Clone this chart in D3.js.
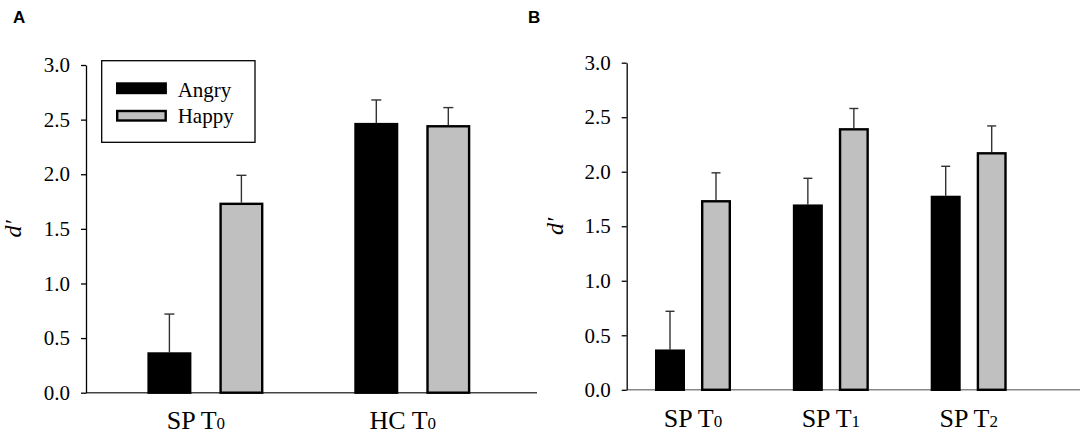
<!DOCTYPE html>
<html><head><meta charset="utf-8">
<script src="https://cdn.jsdelivr.net/npm/d3@7"></script>
<style>body{margin:0;background:#fff} svg{display:block}</style>
</head><body>
<svg id="chart" width="1084" height="435"></svg>
<script>
// ---- data ----
const seriesNames = ["Angry", "Happy"];
const categoriesA = ["SP T0", "HC T0"];
const angryMeanA = [0.37, 2.47];
const angrySEA = [0.35, 0.21];
const happyMeanA = [1.74, 2.45];
const happySEA = [0.25, 0.16];

const categoriesB = ["SP T0", "SP T1", "SP T2"];
const angryMeanB = [0.37, 1.70, 1.78];
const angrySEB = [0.35, 0.24, 0.27];
const happyMeanB = [1.74, 2.40, 2.18];
const happySEB = [0.25, 0.18, 0.24];

const yTicks = [0, 0.5, 1.0, 1.5, 2.0, 2.5, 3.0];
const yDomain = [0, 3];
const yTitle = "d\u2032";

// ---- styles ----
const colors = { Angry: "#000000", Happy: "#c0c0c0" };
const serif = "'Liberation Serif','Times New Roman',serif";
const svg = d3.select("#chart");

function panel(cfg) {
  const g = svg.append("g");
  const y = d3.scaleLinear().domain(yDomain).range([cfg.yBottom, cfg.yTop]);
  const x = d3.scalePoint().domain(cfg.categories).range([cfg.firstCenter, cfg.lastCenter]);

  // x-axis line
  g.append("line")
    .attr("x1", cfg.axisX).attr("x2", cfg.xEnd)
    .attr("y1", y(0)).attr("y2", y(0))
    .attr("stroke", cfg.xAxisColor).attr("stroke-width", 1.6);

  // y-axis
  const yAxis = d3.axisLeft(y).tickValues(yTicks).tickFormat(d3.format(".1f"))
    .tickSize(5).tickSizeOuter(0).tickPadding(11);
  const ya = g.append("g").attr("transform", `translate(${cfg.axisX},0)`).call(yAxis);
  ya.attr("font-family", serif).attr("font-size", 21);
  ya.select(".domain").attr("stroke", "#000").attr("stroke-width", 1.3);
  ya.selectAll(".tick line").attr("stroke", "#000").attr("stroke-width", 1.3);
  ya.selectAll(".tick text")
    .style("font-family", serif).style("font-size", "21px").attr("fill", "#000");

  // y title
  g.append("text")
    .attr("transform", `translate(${cfg.axisX - cfg.titleOffset},${(cfg.yTop + cfg.yBottom) / 2}) rotate(-90)`)
    .attr("text-anchor", "middle").attr("dy", "0.35em")
    .style("font-family", serif).style("font-style", "italic").style("font-size", "24px")
    .text(yTitle);

  const series = [
    { name: "Angry", mean: cfg.angryMean, se: cfg.angrySE, dir: -1 },
    { name: "Happy", mean: cfg.happyMean, se: cfg.happySE, dir: 1 }
  ];
  const recs = [];
  series.forEach(s => cfg.categories.forEach((c, i) => {
    recs.push({ name: s.name, cat: c, mean: s.mean[i], se: s.se[i], cx: x(c) + s.dir * cfg.offset });
  }));

  // error bars
  const eb = g.selectAll(".eb").data(recs).enter().append("g");
  eb.append("line").attr("x1", d => d.cx).attr("x2", d => d.cx)
    .attr("y1", d => y(d.mean)).attr("y2", d => y(d.mean + d.se))
    .attr("stroke", "#333").attr("stroke-width", 1.4);
  eb.append("line").attr("x1", d => d.cx - cfg.capW / 2).attr("x2", d => d.cx + cfg.capW / 2)
    .attr("y1", d => y(d.mean + d.se)).attr("y2", d => y(d.mean + d.se))
    .attr("stroke", "#333").attr("stroke-width", 1.4);

  // bars
  g.selectAll(".bar").data(recs).enter().append("rect")
    .attr("x", d => d.cx - cfg.barW / 2 + 1.2)
    .attr("width", cfg.barW - 2.4)
    .attr("y", d => y(d.mean) + 1.2)
    .attr("height", d => y(0) - y(d.mean) - 1.2)
    .attr("fill", d => colors[d.name])
    .attr("stroke", "#000").attr("stroke-width", 2.4);

  // category labels with small trailing digit
  const lab = g.selectAll(".lab").data(cfg.categories).enter().append("text")
    .attr("x", d => x(d) + cfg.labelShift).attr("y", cfg.labelY)
    .attr("text-anchor", "middle")
    .style("font-family", serif).style("font-size", "26px").attr("fill", "#000");
  lab.append("tspan").text(d => d.slice(0, -1));
  lab.append("tspan").style("font-size", "17px").text(d => d.slice(-1));

  // panel letter
  svg.append("text").attr("x", cfg.letterX).attr("y", 23)
    .style("font-family", "'Liberation Sans',Arial,sans-serif").style("font-weight", "bold")
    .style("font-size", "17px").text(cfg.letter);
  return { x, y, g };
}

const pA = panel({
  letter: "A", letterX: 13,
  categories: categoriesA, angryMean: angryMeanA, angrySE: angrySEA, happyMean: happyMeanA, happySE: happySEA,
  axisX: 86, xEnd: 537, yTop: 65, yBottom: 392.7,
  firstCenter: 205.4, lastCenter: 412.3, offset: 36, barW: 44, capW: 10,
  labelShift: -9.5, labelY: 429, titleOffset: 73, xAxisColor: "#444"
});
const pB = panel({
  letter: "B", letterX: 528,
  categories: categoriesB, angryMean: angryMeanB, angrySE: angrySEB, happyMean: happyMeanB, happySE: happySEB,
  axisX: 626.7, xEnd: 1080, yTop: 62.7, yBottom: 389.8,
  firstCenter: 693, lastCenter: 968.7, offset: 23, barW: 30, capW: 9,
  labelShift: 0, labelY: 427, titleOffset: 72, xAxisColor: "#888"
});

// legend (panel A)
const leg = svg.append("g");
leg.append("rect").attr("x", 101.7).attr("y", 60.7).attr("width", 153.3).attr("height", 81.6)
  .attr("fill", "#fff").attr("stroke", "#000").attr("stroke-width", 1.3);
seriesNames.forEach((n, i) => {
  leg.append("rect").attr("x", 117.2).attr("y", 83.5 + i * 27.5).attr("width", 48.5).attr("height", 9.5)
    .attr("fill", colors[n]).attr("stroke", "#000").attr("stroke-width", 2.4);
  leg.append("text").attr("x", 177.7).attr("y", 96.7 + i * 26.3)
    .style("font-family", serif).style("font-size", "21px").attr("fill", "#000").text(n);
});
</script>
</body></html>
